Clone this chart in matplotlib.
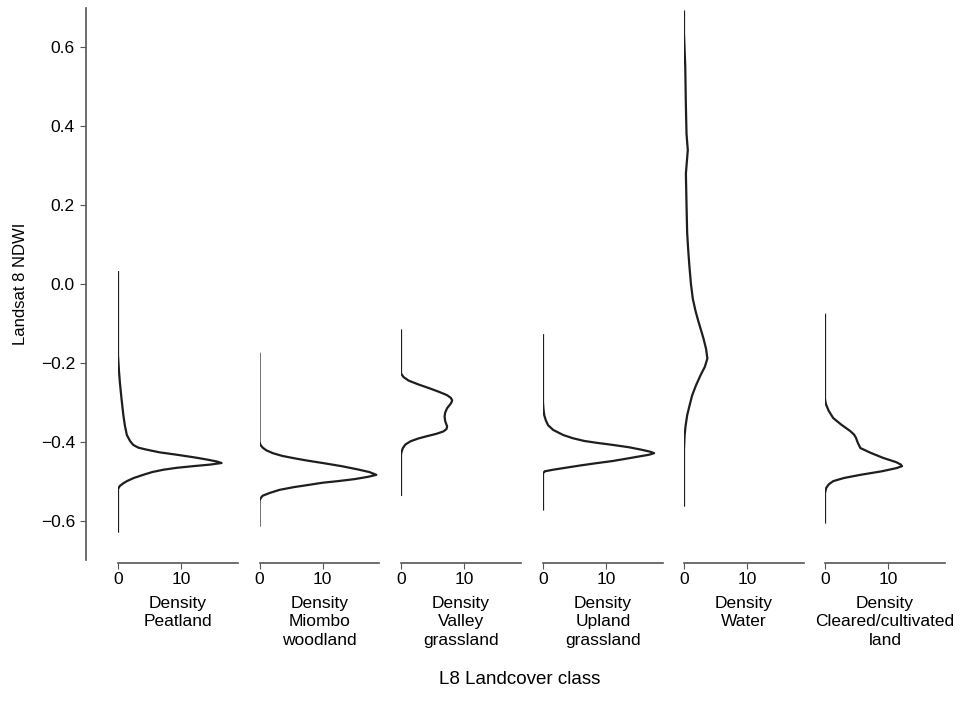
import numpy as np
import matplotlib
matplotlib.use('Agg')
import matplotlib.pyplot as plt

plt.rcParams['font.family'] = ['Liberation Sans', 'DejaVu Sans']

classes = ['Peatland', 'Miombo\nwoodland', 'Valley\ngrassland',
           'Upland\ngrassland', 'Water', 'Cleared/cultivated\nland']

# NDWI value (y) and density (x)
peat_y = [0.03, -0.18, -0.22, -0.25, -0.29, -0.333, -0.36, -0.383, -0.398,
          -0.408, -0.415, -0.42, -0.427, -0.433, -0.44, -0.445, -0.45, -0.454,
          -0.458, -0.462, -0.466, -0.471, -0.477, -0.484, -0.492, -0.50,
          -0.506, -0.512, -0.517, -0.521, -0.628]
peat_d = [0, 0, 0.15, 0.3, 0.55, 0.85, 1.1, 1.4, 1.9, 2.4, 3.2, 4.5, 6.6, 9.3,
          12.2, 14, 15.6, 16.4, 14.6, 11.9, 9.4, 7.2, 5.4, 4, 2.5, 1.4, 0.8,
          0.3, 0.1, 0, 0]

miombo_y = [-0.177, -0.40, -0.408, -0.415, -0.422, -0.429, -0.436, -0.442,
            -0.448, -0.454, -0.462, -0.47, -0.477, -0.484, -0.489, -0.495,
            -0.5, -0.504, -0.51, -0.515, -0.522, -0.53, -0.537, -0.544, -0.55,
            -0.613]
miombo_d = [0, 0, 0.15, 0.5, 1.1, 2.1, 3.6, 5.5, 7.6, 10, 13, 15.5, 17.4,
            18.5, 17.2, 15, 12.4, 10, 7.6, 5.5, 3.2, 1.6, 0.5, 0.15, 0, 0]

valley_y = [-0.118, -0.227, -0.236, -0.245, -0.255, -0.265, -0.274, -0.282,
            -0.289, -0.295, -0.30, -0.305, -0.315, -0.326, -0.336, -0.348,
            -0.361, -0.368, -0.374, -0.38, -0.386, -0.392, -0.399, -0.407,
            -0.416, -0.425, -0.433, -0.535]
valley_d = [0, 0, 0.4, 1.2, 2.8, 4.6, 6.1, 7.3, 7.9, 8.1, 8.0, 7.8, 7.3, 7.0,
            6.9, 7.0, 7.3, 7.2, 6.7, 5.6, 4.1, 2.7, 1.5, 0.7, 0.3, 0.1, 0, 0]

upland_y = [-0.13, -0.30, -0.318, -0.333, -0.346, -0.358, -0.37, -0.383,
            -0.391, -0.398, -0.403, -0.408, -0.414, -0.42, -0.425, -0.429,
            -0.433, -0.438, -0.443, -0.449, -0.455, -0.46, -0.464, -0.467,
            -0.471, -0.475, -0.48, -0.572]
upland_d = [0, 0, 0.08, 0.2, 0.45, 0.8, 1.6, 3.2, 4.7, 6.5, 8.6, 11, 13.6,
            15.5, 16.9, 17.6, 16.8, 15, 13.2, 11, 8.2, 6, 4.4, 3.2, 1.6, 0.3,
            0, 0]

water_y = [0.691, 0.636, 0.55, 0.45, 0.38, 0.36, 0.34, 0.31, 0.28, 0.2, 0.13,
           0.09, 0.046, 0.0, -0.038, -0.07, -0.096, -0.12, -0.139, -0.165,
           -0.189, -0.21, -0.232, -0.257, -0.282, -0.31, -0.333, -0.36,
           -0.383, -0.42, -0.562]
water_d = [0, 0, 0.2, 0.3, 0.4, 0.5, 0.6, 0.45, 0.3, 0.4, 0.5, 0.65, 0.85,
           1.1, 1.4, 1.85, 2.3, 2.75, 3.1, 3.5, 3.7, 3.3, 2.6, 1.9, 1.3, 0.85,
           0.5, 0.25, 0.1, 0, 0]

cleared_y = [-0.078, -0.29, -0.30, -0.307, -0.322, -0.34, -0.357, -0.373,
             -0.382, -0.39, -0.403, -0.416, -0.428, -0.441, -0.452, -0.458,
             -0.462, -0.467, -0.475, -0.484, -0.492, -0.50, -0.508, -0.517,
             -0.53, -0.605]
cleared_d = [0, 0, 0.08, 0.2, 0.6, 1.3, 2.6, 4.0, 4.6, 4.9, 5.2, 5.6, 7.2, 9.2,
             11.3, 12.0, 12.2, 11.3, 9, 5.6, 3.0, 1.3, 0.6, 0.2, 0, 0]

curves = [(peat_y, peat_d), (miombo_y, miombo_d), (valley_y, valley_d),
          (upland_y, upland_d), (water_y, water_d), (cleared_y, cleared_d)]

W, H = 969, 715
fig = plt.figure(figsize=(W / 100, H / 100), dpi=100)

bottom = (H - 560) / H
height = 552 / H

# main axis: only the NDWI scale on the left
ax = fig.add_axes([86 / W, bottom, (950 - 86) / W, height])
ax.set_ylim(-0.7, 0.7)
ax.set_yticks([-0.6, -0.4, -0.2, 0.0, 0.2, 0.4, 0.6])
ax.set_xticks([])
for s in ['top', 'right', 'bottom']:
    ax.spines[s].set_visible(False)
ax.spines['left'].set_color('#555555')
ax.spines['left'].set_linewidth(1.2)
ax.tick_params(axis='y', labelsize=12.5, length=4, color='#555555', pad=4)
ax.set_ylabel('Landsat 8 NDWI', fontsize=12, labelpad=9)
ax.patch.set_alpha(0)

lefts = [118, 259.5, 401, 543, 684, 825]
for left, name, (yv, dv) in zip(lefts, classes, curves):
    pax = fig.add_axes([left / W, bottom, 120 / W, height])
    pax.plot(dv, yv, color='#1e1e1e', lw=1.6, solid_joinstyle='round')
    pax.set_xlim(0, 19)
    pax.set_ylim(-0.7, 0.7)
    pax.set_xticks([0, 10])
    pax.set_yticks([])
    for s in ['top', 'right', 'left']:
        pax.spines[s].set_visible(False)
    pax.spines['bottom'].set_position(('outward', 2))
    pax.spines['bottom'].set_color('#555555')
    pax.spines['bottom'].set_linewidth(1.2)
    pax.tick_params(axis='x', labelsize=12.5, length=4, color='#555555', pad=3)
    pax.set_xlabel('Density\n' + name, fontsize=12.5, labelpad=6,
                   linespacing=1.3)
    pax.patch.set_alpha(0)

fig.text(520 / W, 1 - 680 / H, 'L8 Landcover class', ha='center', va='center',
         fontsize=13.5)

fig.savefig('out.png', dpi=100)
